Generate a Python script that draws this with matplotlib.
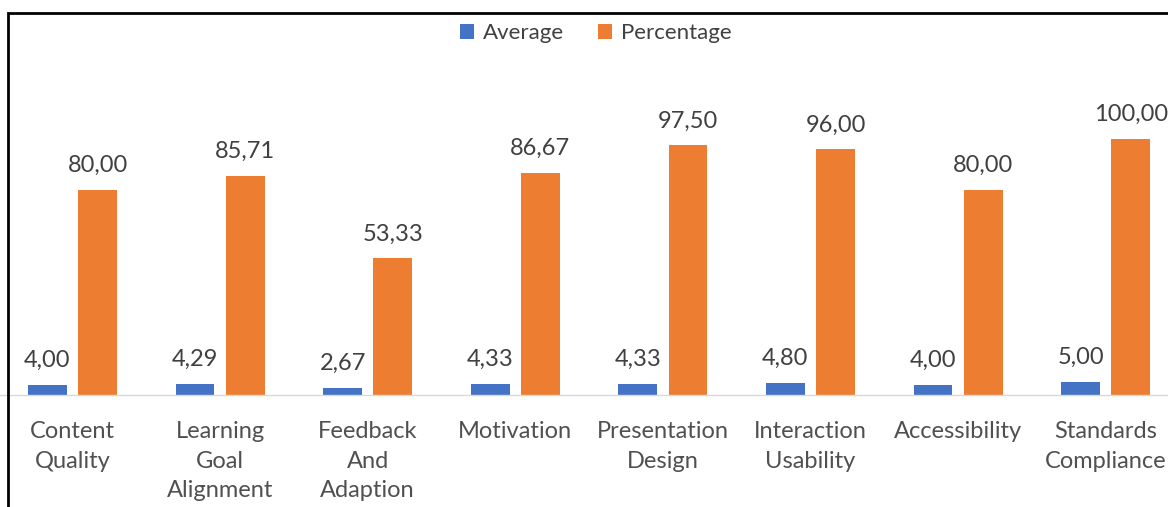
import matplotlib.pyplot as plt
import matplotlib.patches as mpatches
import numpy as np

categories = ["Content\nQuality", "Learning\nGoal\nAlignment", "Feedback\nAnd\nAdaption",
              "Motivation", "Presentation\nDesign", "Interaction\nUsability",
              "Accessibility", "Standards\nCompliance"]
average = [4.00, 4.29, 2.67, 4.33, 4.33, 4.80, 4.00, 5.00]
percentage = [80.00, 85.71, 53.33, 86.67, 97.50, 96.00, 80.00, 100.00]

blue = "#4472C4"
orange = "#ED7D31"
txt = "#404040"

plt.rcParams['font.family'] = ['Lato', 'DejaVu Sans']

fig = plt.figure(figsize=(11.68, 5.07), dpi=100)
ax = fig.add_axes([-1.3 / 1168, 112 / 507, 8 * 147.6 / 1168, 384 / 507])

x = np.arange(len(categories))
w = 0.264
b1 = ax.bar(x - 0.17, average, w, color=blue, label="Average")
b2 = ax.bar(x + 0.17, percentage, w, color=orange, label="Percentage")

fmt = lambda v: f"{v:.2f}".replace(".", ",")
ax.bar_label(b1, labels=[fmt(v) for v in average], padding=10, fontsize=17, color=txt)
ax.bar_label(b2, labels=[fmt(v) for v in percentage], padding=10, fontsize=17, color=txt)

ax.set_xlim(-0.5, 7.5)
ax.set_ylim(0, 150)
ax.set_yticks([])
ax.set_xticks(x)
ax.set_xticklabels(categories, fontsize=17, color="#505050", linespacing=1.5)
ax.tick_params(axis='x', length=0, pad=19)
for s in ["top", "left", "right"]:
    ax.spines[s].set_visible(False)
ax.spines["bottom"].set_color("#D9D9D9")
ax.spines["bottom"].set_linewidth(1)

ax.legend(loc="center", bbox_to_anchor=(0.51, 0.935), bbox_transform=fig.transFigure,
          ncol=2, frameon=False, fontsize=16, handlelength=0.65, handleheight=0.65,
          handletextpad=0.4, columnspacing=1.5, labelcolor=txt)

# outer border (cropped screenshot)
fig.patches.append(mpatches.Rectangle((8 / 1168, -0.1), 1.2, 1 - 13 / 507 + 0.1,
                                      transform=fig.transFigure, fill=False,
                                      edgecolor="black", linewidth=2))

fig.savefig("out.png", dpi=100)
